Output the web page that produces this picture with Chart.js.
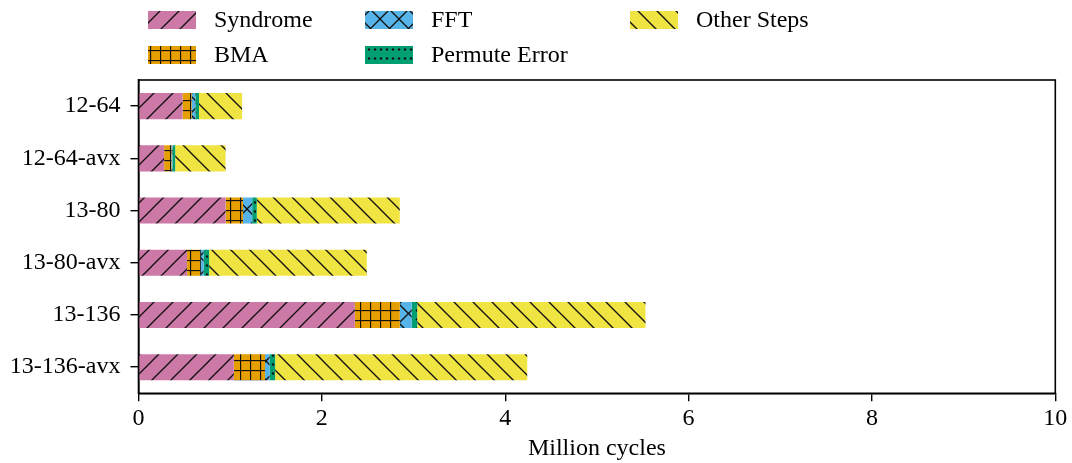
<!DOCTYPE html>
<html>
<head>
<meta charset="utf-8">
<script src="https://cdn.jsdelivr.net/npm/chart.js@4.4.1/dist/chart.umd.min.js"></script>
<style>
  html, body { margin: 0; padding: 0; background: #fff; }
  #c { display: block; }
</style>
</head>
<body>
<canvas id="c" width="1072" height="463"></canvas>
<script>
// Cycle counts (millions) per decoding step for each parameter set
const categories = ['12-64', '12-64-avx', '13-80', '13-80-avx', '13-136', '13-136-avx'];
const syndrome   = [0.48, 0.28, 0.95, 0.53, 2.36, 1.04];
const bma        = [0.10, 0.08, 0.19, 0.15, 0.49, 0.34];
const fft        = [0.04, 0.01, 0.10, 0.03, 0.13, 0.05];
const permute    = [0.04, 0.03, 0.05, 0.06, 0.06, 0.06];
const otherSteps = [0.47, 0.55, 1.56, 1.72, 2.49, 2.75];
const seriesNames = ['Syndrome', 'BMA', 'FFT', 'Permute Error', 'Other Steps'];
const xTicks = [0, 2, 4, 6, 8, 10];

const FONT = '"Liberation Serif", "DejaVu Serif", serif';
const INK = '#000';

// Hatched fills built as repeating canvas patterns
function hatch(color, kind) {
  const sizes = { ne: [19, 19], nw: [19, 19], x: [19, 19], grid: [10, 10], dots: [6, 9] };
  const [w, h] = sizes[kind];
  const t = document.createElement('canvas');
  t.width = w; t.height = h;
  const g = t.getContext('2d');
  g.fillStyle = color;
  g.fillRect(0, 0, w, h);
  g.strokeStyle = '#111';
  g.fillStyle = '#111';
  g.lineWidth = 1.3;
  const seg = (x1, y1, x2, y2) => { g.beginPath(); g.moveTo(x1, y1); g.lineTo(x2, y2); g.stroke(); };
  if (kind === 'ne' || kind === 'x') {
    seg(-2, h + 2, w + 2, -2);
    seg(-2, 2, 2, -2);
    seg(w - 2, h + 2, w + 2, h - 2);
  }
  if (kind === 'nw' || kind === 'x') {
    seg(-2, -2, w + 2, h + 2);
    seg(w - 2, -2, w + 2, 2);
    seg(-2, h - 2, 2, h + 2);
  }
  if (kind === 'grid') {
    seg(0.5, 0, 0.5, h);
    seg(0, 0.5, w, 0.5);
  }
  if (kind === 'dots') {
    g.beginPath();
    g.arc(w / 2, h / 2, 1.2, 0, Math.PI * 2);
    g.fill();
  }
  return g.createPattern(t, 'repeat');
}

const fills = [
  hatch('#CC79A7', 'ne'),
  hatch('#E69F00', 'grid'),
  hatch('#56B4E9', 'x'),
  hatch('#009E73', 'dots'),
  hatch('#F0E442', 'nw')
];
const seriesData = [syndrome, bma, fft, permute, otherSteps];

const datasets = seriesNames.map((name, i) => ({
  label: name,
  data: seriesData[i],
  backgroundColor: fills[i],
  borderWidth: 0,
  barPercentage: 0.5,
  categoryPercentage: 1.0
}));

// Full rectangular frame around the plotting area
const frame = {
  id: 'frame',
  afterDatasetsDraw(chart) {
    const a = chart.chartArea, ctx = chart.ctx;
    ctx.save();
    ctx.strokeStyle = INK;
    ctx.lineWidth = 1.6;
    ctx.strokeRect(a.left, a.top, a.right - a.left, a.bottom - a.top);
    ctx.restore();
  }
};

// Legend laid out in columns above the axes
const columnLegend = {
  id: 'columnLegend',
  afterDraw(chart) {
    const ctx = chart.ctx;
    const layout = [
      { col: 0, row: 0 }, { col: 0, row: 1 },
      { col: 1, row: 0 }, { col: 1, row: 1 },
      { col: 2, row: 0 }
    ];
    const colX = [148, 365, 630];
    const rowY = [20, 55];
    ctx.save();
    ctx.font = '24px ' + FONT;
    ctx.textBaseline = 'middle';
    ctx.textAlign = 'left';
    chart.data.datasets.forEach((ds, i) => {
      const p = layout[i];
      const x = colX[p.col], y = rowY[p.row];
      ctx.fillStyle = ds.backgroundColor;
      ctx.fillRect(x, y - 9, 48, 18);
      ctx.fillStyle = INK;
      ctx.fillText(ds.label, x + 66, y + 1);
    });
    ctx.restore();
  }
};

new Chart(document.getElementById('c'), {
  type: 'bar',
  data: { labels: categories, datasets },
  options: {
    indexAxis: 'y',
    responsive: false,
    animation: false,
    layout: { padding: { top: 80, right: 16.7, left: 0, bottom: 0 } },
    plugins: { legend: { display: false }, tooltip: { enabled: false } },
    scales: {
      x: {
        stacked: true,
        min: 0,
        max: 10,
        afterBuildTicks(s) { s.ticks = xTicks.map(v => ({ value: v })); },
        ticks: { color: INK, font: { family: FONT, size: 24 }, padding: 3, maxRotation: 0 },
        grid: { drawOnChartArea: false, drawTicks: true, tickLength: 8, color: INK, lineWidth: 1.4 },
        border: { display: true, color: INK, width: 1.6 },
        title: { display: true, text: 'Million cycles', color: INK, font: { family: FONT, size: 24 }, padding: { top: 2, bottom: 0 } },
        afterFit(s) { s.height = 463 - 393.3; }
      },
      y: {
        stacked: true,
        ticks: { color: INK, font: { family: FONT, size: 24 }, padding: 10 },
        grid: { drawOnChartArea: false, drawTicks: true, tickLength: 8, color: INK, lineWidth: 1.4, offset: false },
        border: { display: true, color: INK, width: 1.6 },
        afterFit(s) { s.width = 138.5; }
      }
    }
  },
  plugins: [frame, columnLegend]
});
</script>
</body>
</html>
